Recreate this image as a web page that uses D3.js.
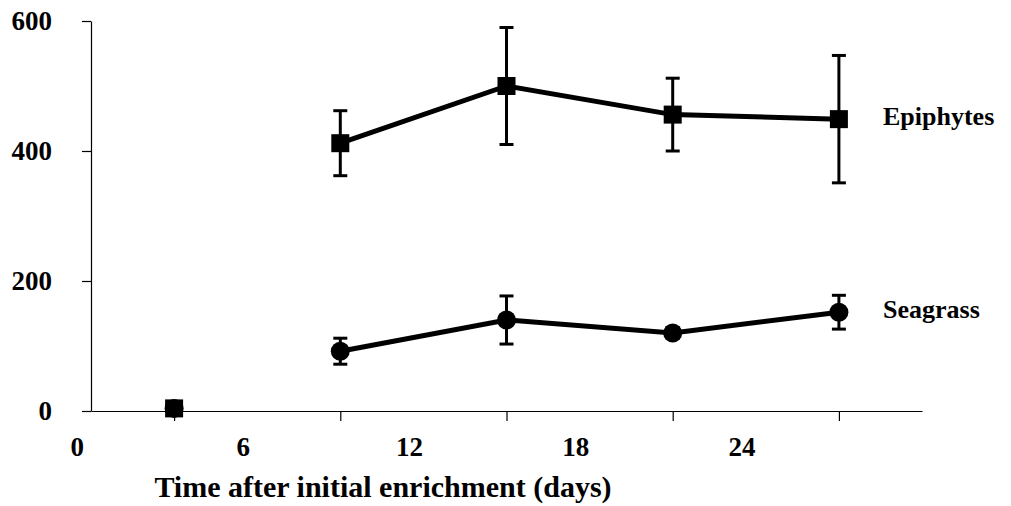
<!DOCTYPE html>
<html>
<head>
<meta charset="utf-8">
<script src="https://cdn.jsdelivr.net/npm/d3@7"></script>
<style>
  body { margin: 0; background: #fff; }
  svg { display: block; }
  text { font-family: "Liberation Serif", "Times New Roman", serif; font-weight: bold; }
</style>
</head>
<body>
<div id="chart"></div>
<script>
// days after enrichment
const days = [3, 9, 15, 21, 27];
const xLabels = [0, 6, 12, 18, 24];
const yTicks = [0, 200, 400, 600];

const epiphytes = [4, 412, 500, 456, 449];
const epiphytesErr = [0, 50, 90, 56, 98];

const seagrass = [4, 92, 140, 120, 152];
const seagrassErr = [0, 20, 37, 8, 26];

const seriesNames = ["Epiphytes", "Seagrass"];

const width = 1011, height = 506;

const svg = d3.select("#chart")
    .append("svg")
    .attr("width", width)
    .attr("height", height);

const x = d3.scaleLinear().domain([0, 30]).range([91, 922]);
const y = d3.scaleLinear().domain([0, 600]).range([411, 21]);

// y axis
svg.append("g")
    .attr("transform", `translate(${x(0)},0)`)
    .call(d3.axisLeft(y).tickValues(yTicks).tickSize(9).tickSizeOuter(0).tickPadding(30))
    .call(g => g.selectAll("path, line").attr("stroke", "#000").attr("stroke-width", 1.2))
    .call(g => g.selectAll("text").attr("font-size", 27).attr("font-family", null).attr("fill", "#000"));

// x axis: ticks at the sampling days
svg.append("g")
    .attr("transform", `translate(0,${y(0)})`)
    .call(d3.axisBottom(x).tickValues(days).tickSize(10).tickSizeOuter(0).tickFormat(""))
    .call(g => g.selectAll("path, line").attr("stroke", "#000").attr("stroke-width", 1.2));

// x tick labels (sit a little left of the ticks, as in the original)
svg.append("g")
    .selectAll("text")
    .data(xLabels)
    .enter()
    .append("text")
    .attr("x", d => x(d - 0.5))
    .attr("y", 456)
    .attr("text-anchor", "middle")
    .attr("font-size", 27)
    .text(d => d);

svg.append("text")
    .attr("x", 383)
    .attr("y", 497)
    .attr("text-anchor", "middle")
    .attr("font-size", 30)
    .text("Time after initial enrichment (days)");

const drawSeries = (vals, errs, shape, label) => {
    const pts = days.map((d, i) => ({ day: d, v: vals[i], e: errs[i] }));
    const g = svg.append("g");

    // line skips the day-3 point (drawn only as a marker)
    g.append("path")
        .datum(pts.slice(1))
        .attr("fill", "none")
        .attr("stroke", "#000")
        .attr("stroke-width", 5)
        .attr("d", d3.line().x(d => x(d.day)).y(d => y(d.v)));

    const eb = g.selectAll(".err")
        .data(pts.filter(d => d.e > 0))
        .enter()
        .append("g")
        .attr("stroke", "#000")
        .attr("stroke-width", 3);
    eb.append("line")
        .attr("x1", d => x(d.day)).attr("x2", d => x(d.day))
        .attr("y1", d => y(d.v + d.e)).attr("y2", d => y(d.v - d.e));
    eb.append("line")
        .attr("x1", d => x(d.day) - 7).attr("x2", d => x(d.day) + 7)
        .attr("y1", d => y(d.v + d.e)).attr("y2", d => y(d.v + d.e));
    eb.append("line")
        .attr("x1", d => x(d.day) - 7).attr("x2", d => x(d.day) + 7)
        .attr("y1", d => y(d.v - d.e)).attr("y2", d => y(d.v - d.e));

    if (shape === "square") {
        g.selectAll(".mk")
            .data(pts)
            .enter()
            .append("rect")
            .attr("x", d => x(d.day) - 9)
            .attr("y", d => y(d.v) - 9)
            .attr("width", 18)
            .attr("height", 18)
            .attr("fill", "#000");
    } else {
        g.selectAll(".mk")
            .data(pts)
            .enter()
            .append("circle")
            .attr("cx", d => x(d.day))
            .attr("cy", d => y(d.v))
            .attr("r", 9.5)
            .attr("fill", "#000");
    }

    const last = pts[pts.length - 1];
    svg.append("text")
        .attr("x", 883)
        .attr("y", y(last.v) - 3)
        .attr("dy", "0.35em")
        .attr("font-size", 26)
        .text(label);
};

drawSeries(epiphytes, epiphytesErr, "square", seriesNames[0]);
drawSeries(seagrass, seagrassErr, "circle", seriesNames[1]);
</script>
</body>
</html>
